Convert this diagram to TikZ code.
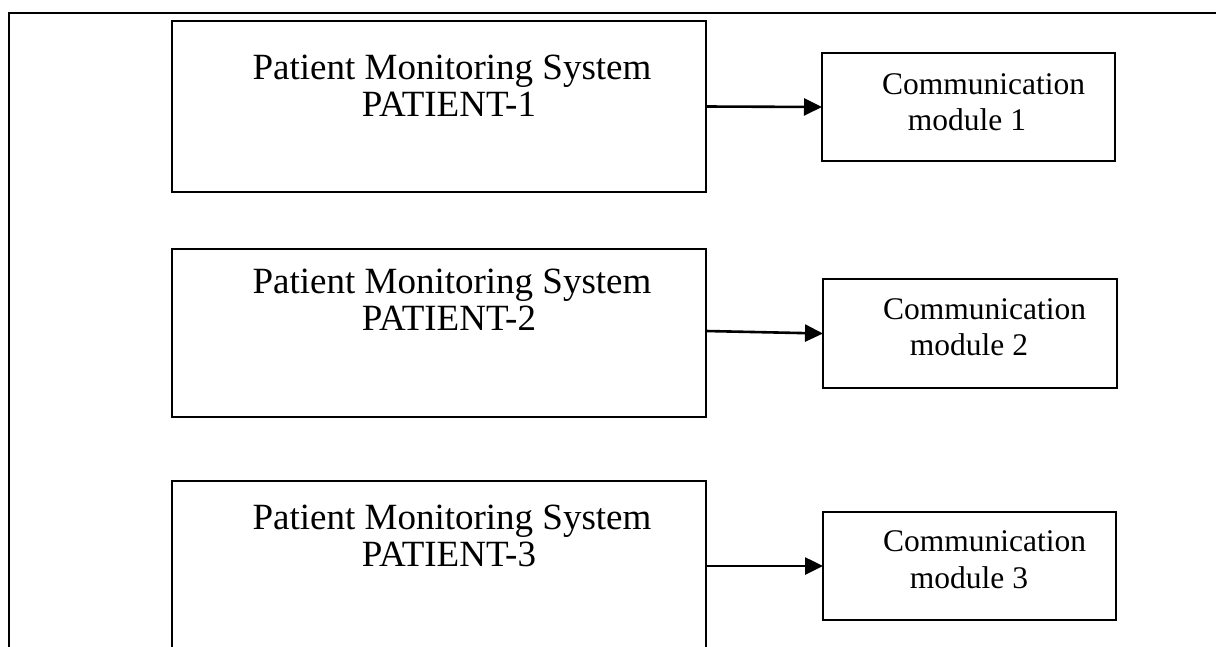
\documentclass[tikz,border=0pt]{standalone}
\usepackage{fontspec}
\setmainfont{Liberation Serif}
\usetikzlibrary{arrows.meta}
\begin{document}
\begin{tikzpicture}[x=1pt,y=-1pt,
  boxshape/.style={draw, line width=2pt, inner sep=0pt, outer sep=0pt, rectangle},
  ptext/.style={anchor=base, inner sep=0pt, font=\fontsize{37}{37}\selectfont},
  ctext/.style={anchor=base, inner sep=0pt, font=\fontsize{31.5}{31.5}\selectfont},
  conn/.style={line width=2.6pt, -{Triangle[length=18pt,width=17pt]}}]
\useasboundingbox (0,0) rectangle (1216,646);
\clip (0,0) rectangle (1216,646);
% outer frame
\coordinate (fbl) at (9,660);
\coordinate (ftl) at (9,13);
\coordinate (ftr) at (1220,13);
\draw[line width=2.2pt] (fbl) -- (ftl) -- (ftr);
% patient boxes
\node[boxshape, minimum width=534pt, minimum height=171pt] (p1) at (439,106.5) {};
\node[boxshape, minimum width=534pt, minimum height=168pt] (p2) at (439,333) {};
\node[boxshape, minimum width=534pt, minimum height=200pt] (p3) at (439,581) {};
% communication boxes
\node[boxshape, minimum width=293pt, minimum height=108pt] (c1) at (968.5,107) {};
\node[boxshape, minimum width=294pt, minimum height=109pt] (c2) at (970,333.5) {};
\node[boxshape, minimum width=293pt, minimum height=108pt] (c3) at (969.5,566) {};
% patient texts
\node[ptext] (p1a) at (452,79) {Patient Monitoring System};
\node[ptext] (p1b) at (449,116) {PATIENT-1};
\node[ptext] (p2a) at (452,293) {Patient Monitoring System};
\node[ptext] (p2b) at (449,330) {PATIENT-2};
\node[ptext] (p3a) at (452,529) {Patient Monitoring System};
\node[ptext] (p3b) at (449,566) {PATIENT-3};
% communication texts
\node[ctext] (c1a) at (983.5,94) {Communication};
\node[ctext] (c1b) at (967,130) {module 1};
\node[ctext] (c2a) at (984.5,319) {Communication};
\node[ctext] (c2b) at (969,355) {module 2};
\node[ctext] (c3a) at (984.5,551) {Communication};
\node[ctext] (c3b) at (969,588) {module 3};
% connectors
\draw[conn] (p1.east) -- (c1.west);
\draw[conn] (p2.east |- 0,331) -- (c2.west);
\draw[conn] (p3.east |- c3.west) -- (c3.west);
\end{tikzpicture}
\end{document}
